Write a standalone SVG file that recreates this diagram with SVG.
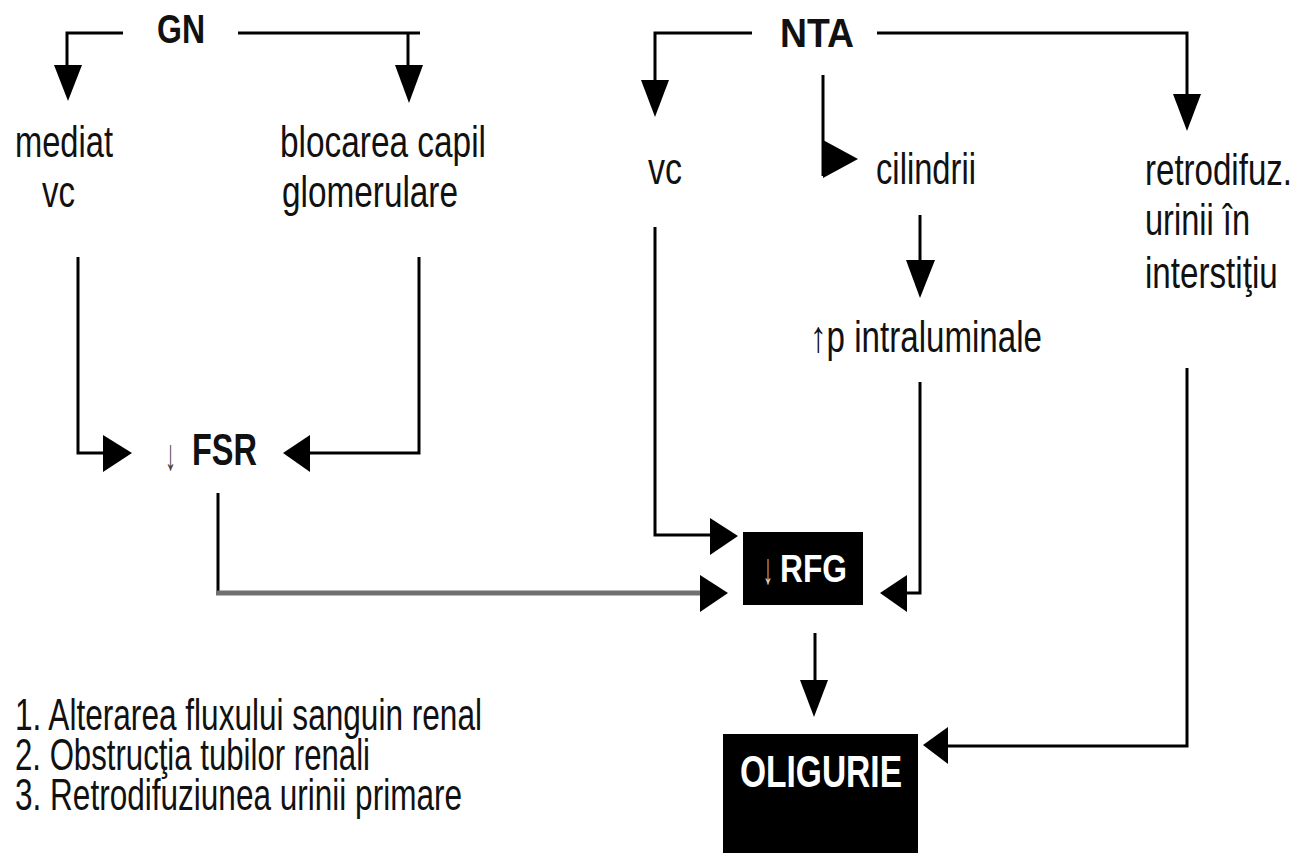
<svg xmlns="http://www.w3.org/2000/svg" width="1299" height="853" viewBox="0 0 1299 853">
<style>
.t{font-family:"Liberation Sans",Arial,sans-serif;font-size:44px;fill:#111}
.b{font-family:"Liberation Sans",Arial,sans-serif;font-weight:bold;fill:#111}
.w{fill:#fff}
.ln{fill:none;stroke:#000;stroke-width:3}
.gr{fill:none;stroke:#707070;stroke-width:5}
.ah{fill:#000}
.box{fill:#000}
</style>
<rect x="0" y="0" width="1299" height="853" fill="#fff"/>
<g id="connectors">
  <polyline class="ln" points="123,33 67,33 67,67"/>
  <polygon class="ah" points="54,65 82,65 68,101"/>
  <polyline class="ln" points="238,33 420,33"/>
  <polyline class="ln" points="408,33 408,67"/>
  <polygon class="ah" points="395,65 423,65 409,103"/>
  <polyline class="ln" points="78,257 78,453 105,453"/>
  <polygon class="ah" points="103,435 103,472 132,453"/>
  <polyline class="ln" points="419,257 419,453 308,453"/>
  <polygon class="ah" points="310,435 310,472 283,453"/>
  <polyline class="ln" points="218,493 218,593"/>
  <polyline class="gr" points="216,593 702,593"/>
  <polygon class="ah" points="700,575 700,612 728,593"/>
  <polyline class="ln" points="752,33 655,33 655,82"/>
  <polygon class="ah" points="641,80 669,80 655,117"/>
  <polyline class="ln" points="823,75 823,176"/>
  <polygon class="ah" points="823,140 823,178 858,159"/>
  <polyline class="ln" points="877,33 1187,33 1187,96"/>
  <polygon class="ah" points="1173,94 1201,94 1187,131"/>
  <polyline class="ln" points="920,215 920,262"/>
  <polygon class="ah" points="906,260 935,260 920,298"/>
  <polyline class="ln" points="655,227 655,535 712,535"/>
  <polygon class="ah" points="710,518 710,555 738,536"/>
  <polyline class="ln" points="920,382 920,593 905,593"/>
  <polygon class="ah" points="907,575 907,612 880,593"/>
  <polyline class="ln" points="815,633 815,682"/>
  <polygon class="ah" points="800,680 828,680 814,717"/>
  <polyline class="ln" points="1187,368 1187,746 946,746"/>
  <polygon class="ah" points="948,727 948,764 923,745"/>
</g>
<g id="GN"><text class="b" x="157" y="43" font-size="40" textLength="48" lengthAdjust="spacingAndGlyphs">GN</text></g>
<g id="NTA"><text class="b" x="780" y="47" font-size="40" textLength="74" lengthAdjust="spacingAndGlyphs">NTA</text></g>
<g id="mediat">
  <text class="t" x="15" y="157" textLength="98" lengthAdjust="spacingAndGlyphs">mediat</text>
  <text class="t" x="42" y="207" textLength="33" lengthAdjust="spacingAndGlyphs">vc</text>
</g>
<g id="blocarea">
  <text class="t" x="280" y="157" textLength="206" lengthAdjust="spacingAndGlyphs">blocarea capil</text>
  <text class="t" x="282" y="207" textLength="176" lengthAdjust="spacingAndGlyphs">glomerulare</text>
</g>
<g id="vc2"><text class="t" x="648" y="184" textLength="34" lengthAdjust="spacingAndGlyphs">vc</text></g>
<g id="cilindrii"><text class="t" x="876" y="184" textLength="100" lengthAdjust="spacingAndGlyphs">cilindrii</text></g>
<g id="retrodifuz">
  <text class="t" transform="translate(1145,185) scale(0.75,1)" x="0" y="0" textLength="196" lengthAdjust="spacingAndGlyphs">retrodifuz.</text>
  <text class="t" transform="translate(1145,235) scale(0.75,1)" x="0" y="0" textLength="140" lengthAdjust="spacingAndGlyphs">urinii în</text>
  <text class="t" transform="translate(1145,288) scale(0.75,1)" x="0" y="0" textLength="177" lengthAdjust="spacingAndGlyphs">interstiţiu</text>
</g>
<g id="intraluminale"><text class="t" x="810" y="352" textLength="232" lengthAdjust="spacingAndGlyphs">↑p intraluminale</text></g>
<g id="FSR">
  <text class="t" transform="translate(165,470) scale(0.5,1)" x="0" y="0" font-size="42" style="fill:#444">↓</text>
  <text class="b" x="192" y="465" font-size="44" textLength="65" lengthAdjust="spacingAndGlyphs">FSR</text>
</g>
<g id="RFG">
  <rect class="box" x="743" y="532" width="120" height="73"/>
  <text class="t" transform="translate(763,584) scale(0.45,1)" x="0" y="0" font-size="36" style="fill:#d0d0d0">↓</text>
  <text class="b w" x="780" y="582" font-size="38" textLength="67" lengthAdjust="spacingAndGlyphs">RFG</text>
</g>
<g id="OLIGURIE">
  <rect class="box" x="723" y="734" width="195" height="130"/>
  <text class="b w" x="740" y="787" font-size="44" textLength="162" lengthAdjust="spacingAndGlyphs">OLIGURIE</text>
</g>
<g id="legend">
  <text class="t" x="15" y="730" font-size="43" textLength="467" lengthAdjust="spacingAndGlyphs">1. Alterarea fluxului sanguin renal</text>
  <text class="t" x="15" y="770" font-size="43" textLength="355" lengthAdjust="spacingAndGlyphs">2. Obstrucţia tubilor renali</text>
  <text class="t" x="15" y="810" font-size="43" textLength="447" lengthAdjust="spacingAndGlyphs">3. Retrodifuziunea urinii primare</text>
</g>
</svg>
